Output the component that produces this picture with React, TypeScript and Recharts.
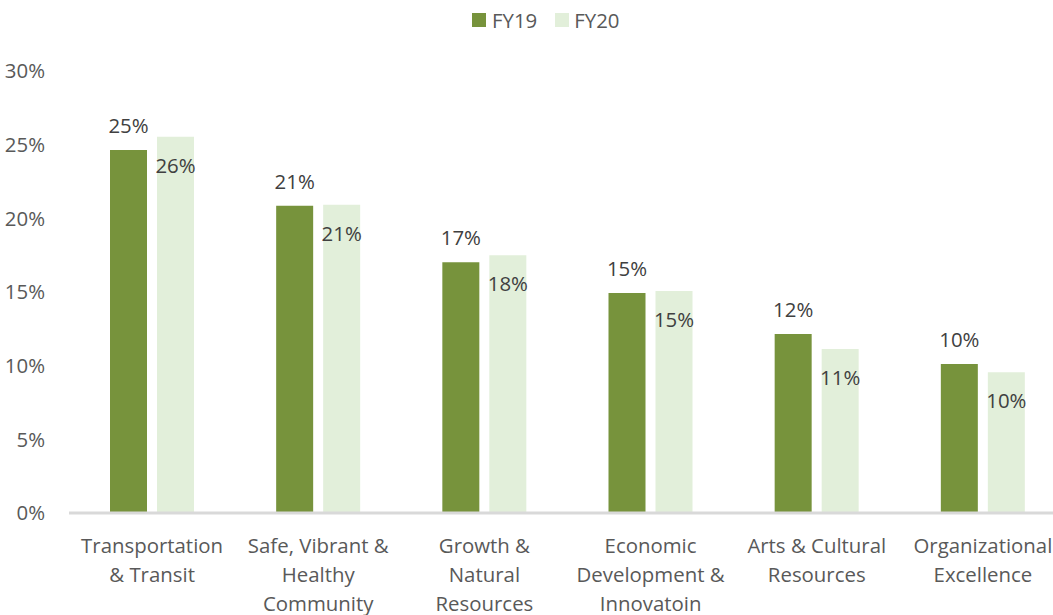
import React from 'react';
import { BarChart, Bar, XAxis, YAxis, Legend, LabelList } from 'recharts';

const categories = [
  'Transportation\n& Transit',
  'Safe, Vibrant &\nHealthy\nCommunity',
  'Growth &\nNatural\nResources',
  'Economic\nDevelopment &\nInnovatoin',
  'Arts & Cultural\nResources',
  'Organizational\nExcellence',
];
const fy19 = [24.64, 20.85, 17.02, 14.94, 12.15, 10.12];
const fy20 = [25.53, 20.93, 17.5, 15.07, 11.13, 9.55];
const yTicks = [0, 5, 10, 15, 20, 25, 30];

const data = categories.map((c, i) => ({ name: c, FY19: fy19[i], FY20: fy20[i] }));

const FONT = '"Open Sans", sans-serif';
const FS = 20.4;
const C19 = '#77933C';
const C20 = '#E2EFDA';
const AXIS_TEXT = '#595959';
const LABEL_TEXT = '#404040';

const CategoryTick = (props: any) => {
  const { x, y, payload } = props;
  const lines = String(payload.value).split('\n');
  return (
    <text x={x} y={y + 32} textAnchor="middle" fill={AXIS_TEXT} fontFamily={FONT} fontSize={FS}>
      {lines.map((l, i) => (
        <tspan key={i} x={x} dy={i === 0 ? 0 : 29}>
          {l}
        </tspan>
      ))}
    </text>
  );
};

const TopLabel = (props: any) => {
  const { x, y, width, value } = props;
  return (
    <text x={x + width / 2} y={y - 17} textAnchor="middle" fill={LABEL_TEXT} fontFamily={FONT} fontSize={FS}>
      {Math.round(value)}%
    </text>
  );
};

const InsideLabel = (props: any) => {
  const { x, y, width, value } = props;
  return (
    <text x={x + width / 2} y={y + 36} textAnchor="middle" fill={LABEL_TEXT} fontFamily={FONT} fontSize={FS}>
      {Math.round(value)}%
    </text>
  );
};

const LegendContent = () => (
  <div style={{ display: 'flex', alignItems: 'center', fontFamily: FONT, fontSize: FS, color: AXIS_TEXT, lineHeight: '28px' }}>
    <span style={{ width: 14, height: 14, background: C19, display: 'inline-block', marginRight: 6 }} />
    <span style={{ marginRight: 18 }}>FY19</span>
    <span style={{ width: 14, height: 14, background: C20, display: 'inline-block', marginRight: 5 }} />
    <span>FY20</span>
  </div>
);

export default function App() {
  return (
    <div style={{ position: 'absolute', left: 0, top: 0, width: 1053, height: 615, overflow: 'hidden', background: '#fff' }}>
      <BarChart
        width={1066}
        height={615}
        data={data}
        margin={{ top: 71, right: 0, bottom: 0, left: 0 }}
        barSize={37}
        barGap={10}
      >
        <Legend
          layout="horizontal"
          verticalAlign="middle"
          align="center"
          content={<LegendContent />}
          wrapperStyle={{ top: 6, left: 472, width: 200 }}
        />
        <YAxis
          width={69}
          domain={[0, 30]}
          ticks={yTicks}
          interval={0}
          axisLine={false}
          tickLine={false}
          tickSize={0}
          tickMargin={24}
          tickFormatter={(v: number) => `${v}%`}
          tick={{ fill: AXIS_TEXT, fontFamily: FONT, fontSize: FS }}
        />
        <XAxis
          dataKey="name"
          height={102}
          interval={0}
          tickLine={false}
          axisLine={{ stroke: '#D9D9D9', strokeWidth: 3 }}
          tick={<CategoryTick />}
        />
        <Bar dataKey="FY19" fill={C19} isAnimationActive={false}>
          <LabelList dataKey="FY19" content={<TopLabel />} />
        </Bar>
        <Bar dataKey="FY20" fill={C20} isAnimationActive={false}>
          <LabelList dataKey="FY20" content={<InsideLabel />} />
        </Bar>
      </BarChart>
    </div>
  );
}
